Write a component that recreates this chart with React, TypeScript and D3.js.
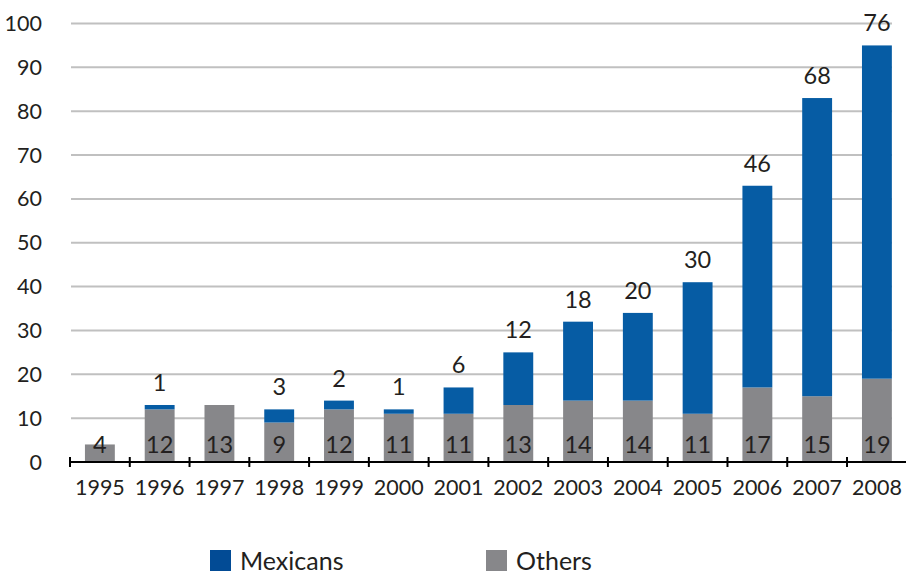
import React from "react";
import * as d3 from "d3";

const years = ["1995","1996","1997","1998","1999","2000","2001","2002","2003","2004","2005","2006","2007","2008"];
const others = [4,12,13,9,12,11,11,13,14,14,11,17,15,19];
const mexicans = [0,1,0,3,2,1,6,12,18,20,30,46,68,76];
const yTicks = [0,10,20,30,40,50,60,70,80,90,100];
const seriesNames = ["Mexicans","Others"];

const W = 906, H = 574;
const BLUE = "#065ca4";
const BLUE_LEGEND = "#024b95";
const GRAY = "#87878a";
const TEXT = "#231f20";
const FONT = "Lato, 'Open Sans', sans-serif";

export default function App() {
  const x = d3.scaleBand<string>().domain(years).range([70, 906.8]).paddingInner(0.5).paddingOuter(0.25);
  const y = d3.scaleLinear().domain([0, 100]).range([462, 23.5]);
  const step = x.step();
  const bw = x.bandwidth();
  const gridX0 = 71, gridX1 = 892;

  return (
    <svg width={W} height={H} style={{ position: "absolute", left: 0, top: 0, background: "#fff" }} fontFamily={FONT}>
      {yTicks.map(t => (
        <g key={t}>
          {t > 0 && <line x1={gridX0} x2={gridX1} y1={y(t)} y2={y(t)} stroke="#c0c0c0" strokeWidth={2} />}
          <text x={42} y={y(t) + 7.5} textAnchor="end" fontSize={21.5} fill={TEXT}>{t}</text>
        </g>
      ))}
      {years.map((yr, i) => {
        const x0 = x(yr)!;
        const o = others[i], m = mexicans[i];
        return (
          <g key={yr}>
            <rect x={x0} width={bw} y={y(o)} height={y(0) - y(o)} fill={GRAY} />
            {m > 0 && <rect x={x0} width={bw} y={y(o + m)} height={y(o) - y(o + m)} fill={BLUE} />}
            <text x={x0 + bw / 2} y={453} textAnchor="middle" fontSize={23.5} fill={TEXT}>{o}</text>
            {m > 0 && <text x={x0 + bw / 2} y={y(o + m) - 14} textAnchor="middle" fontSize={23.5} fill={TEXT}>{m}</text>}
            <text x={x0 + bw / 2} y={495} textAnchor="middle" fontSize={21.5} fill={TEXT}>{yr}</text>
          </g>
        );
      })}
      <line x1={70} x2={906} y1={y(0)} y2={y(0)} stroke="#000" strokeWidth={2} />
      {years.map((yr) => {
        const tx = x(yr)! - step * 0.25;
        return <line key={"t" + yr} x1={tx} x2={tx} y1={457} y2={467} stroke="#000" strokeWidth={2} />;
      })}
      {seriesNames.map((s, i) => {
        const lx = i === 0 ? 210 : 486;
        return (
          <g key={s}>
            <rect x={lx} y={550} width={21} height={21} fill={i === 0 ? BLUE_LEGEND : GRAY} />
            <text x={lx + 30} y={570} fontSize={25} fill={TEXT}>{s}</text>
          </g>
        );
      })}
    </svg>
  );
}
